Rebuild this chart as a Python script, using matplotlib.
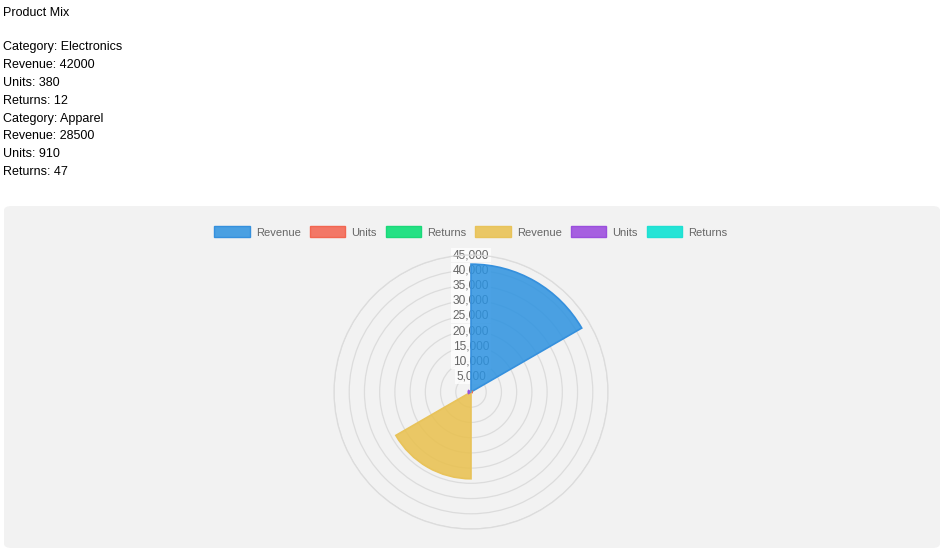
import numpy as np
import matplotlib.pyplot as plt
from matplotlib.colors import to_rgba
from matplotlib.patches import FancyBboxPatch, Patch

plt.rcParams['font.family'] = ['Liberation Sans', 'DejaVu Sans']

# Data
categories = ['Electronics', 'Apparel']
revenue = [42000, 28500]
units = [380, 910]
returns = [12, 47]

seg_labels = ['Revenue', 'Units', 'Returns', 'Revenue', 'Units', 'Returns']
seg_values = [revenue[0], units[0], returns[0], revenue[1], units[1], returns[1]]
base_colors = ['#2c92e0', '#f4624d', '#00de71', '#e9c04c', '#9945dd', '#00e2d2']
edge_colors = ['#3590dd', '#f26651', '#1ad879', '#e8c35a', '#9a4fdd', '#1ee0d2']
fill_colors = [to_rgba(c, 0.85) for c in base_colors]
r_ticks = [5000, 10000, 15000, 20000, 25000, 30000, 35000, 40000, 45000]

W, H = 941, 551
fig = plt.figure(figsize=(W / 100, H / 100), dpi=100)
fig.patch.set_facecolor('white')

# header text
lines = ['Product Mix', '']
for i, c in enumerate(categories):
    lines += [f'Category: {c}', f'Revenue: {revenue[i]}',
              f'Units: {units[i]}', f'Returns: {returns[i]}']
ys = [13, 30, 47, 65, 83, 101, 119, 136, 154, 172]
for t, y in zip(lines, ys):
    if t:
        fig.text(3 / W, 1 - y / H, t, fontsize=9, color='black',
                 ha='left', va='center')

# panel background
panel = FancyBboxPatch((4 / W, 3 / H), 936 / W, 342 / H,
                       boxstyle='round,pad=0,rounding_size=0.008',
                       transform=fig.transFigure, facecolor='#f2f2f2',
                       edgecolor='none', zorder=-1)
fig.patches.append(panel)

# polar area chart
cx, cy, R = 471, 392, 137
ax = fig.add_axes([(cx - R) / W, (H - cy - R) / H, 2 * R / W, 2 * R / H],
                  polar=True)
ax.set_zorder(2)
ax.set_facecolor('none')
ax.set_theta_zero_location('N')
ax.set_theta_direction(-1)
n = len(seg_values)
width = 2 * np.pi / n
theta = np.arange(n) * width
ax.bar(theta, seg_values, width=width, align='edge', color=fill_colors,
       edgecolor=edge_colors, linewidth=1.2, zorder=3)
ax.set_ylim(0, 45000)
ax.set_yticks(r_ticks)
ax.set_yticklabels([])
ax.set_xticks([])
ax.yaxis.grid(True, color='#dcdcdc', linewidth=0.9)
ax.xaxis.grid(False)
ax.spines['polar'].set_color('#dcdcdc')
ax.spines['polar'].set_linewidth(0.9)
for v in r_ticks:
    ax.text(0, v, f'{v:,}', ha='center', va='center', fontsize=8.6,
            color='#666666', zorder=2,
            bbox=dict(boxstyle='square,pad=0.12', facecolor='white',
                      edgecolor='none', alpha=0.75))

# legend
handles = [Patch(facecolor=f, edgecolor=e, linewidth=1)
           for f, e in zip(fill_colors, edge_colors)]
leg = fig.legend(handles, seg_labels, loc='center',
                 bbox_to_anchor=(cx / W, 1 - 232 / H),
                 ncol=6, frameon=False, fontsize=8, labelcolor='#666666',
                 handlelength=3.2, handleheight=1.1, handletextpad=0.55,
                 columnspacing=0.8)
leg.set_zorder(3)

fig.savefig('out.png', dpi=100)
